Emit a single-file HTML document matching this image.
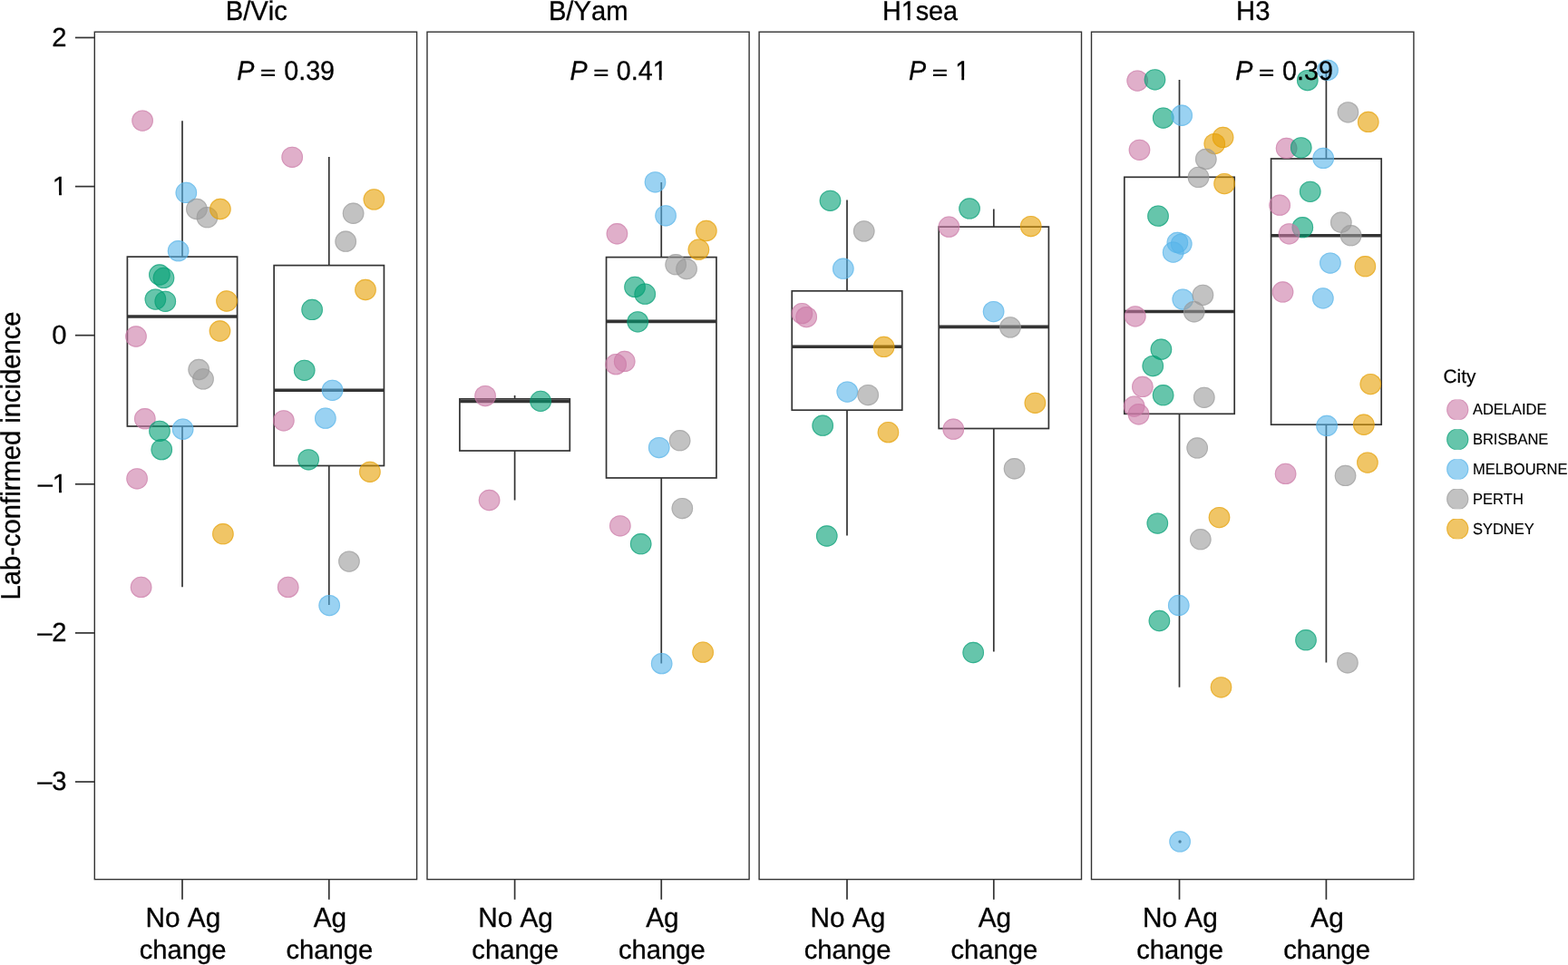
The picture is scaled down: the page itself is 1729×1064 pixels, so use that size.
<!DOCTYPE html>
<html lang="en"><head><meta charset="utf-8"><title>Lab-confirmed incidence by antigenic change</title>
<style>html,body{margin:0;padding:0;background:#fff;overflow:hidden}svg{display:block}text{font-family:"Liberation Sans",Arial,Helvetica,sans-serif;fill:#000;text-rendering:geometricPrecision;font-kerning:none}</style></head><body>
<svg width="1729" height="1064" viewBox="0 0 1729 1064">
<rect width="1729" height="1064" fill="#fff"/>
<g fill="none" stroke="#333333" stroke-width="1.7">
<path d="M201.0 133.2V283.1M201.0 470.0V647.2"/>
<rect x="140.40" y="283.1" width="121.20" height="186.90"/>
<path d="M140.40 349.0H261.60" stroke-width="3.6"/>
<path d="M362.8 173.0V292.6M362.8 513.5V667.0"/>
<rect x="302.15" y="292.6" width="121.30" height="220.90"/>
<path d="M302.15 430.3H423.45" stroke-width="3.6"/>
<path d="M567.6 436.0V439.85M567.6 497.0V551.4"/>
<rect x="506.90" y="439.85" width="121.40" height="57.15"/>
<path d="M506.90 442.5H628.30" stroke-width="3.6"/>
<path d="M729.25 200.9V283.6M729.25 526.95V731.6"/>
<rect x="668.55" y="283.6" width="121.40" height="243.35"/>
<path d="M668.55 354.4H789.95" stroke-width="3.6"/>
<path d="M934.0 220.6V320.8M934.0 452.2V590.6"/>
<rect x="873.25" y="320.8" width="121.50" height="131.40"/>
<path d="M873.25 382.2H994.75" stroke-width="3.6"/>
<path d="M1095.8 230.4V250.1M1095.8 472.5V718.6"/>
<rect x="1035.20" y="250.1" width="121.20" height="222.40"/>
<path d="M1035.20 360.4H1156.40" stroke-width="3.6"/>
<path d="M1300.5 87.9V195.3M1300.5 456.3V757.8"/>
<rect x="1239.80" y="195.3" width="121.40" height="261.00"/>
<path d="M1239.80 343.5H1361.20" stroke-width="3.6"/>
<path d="M1462.4 77.0V175.0M1462.4 468.2V730.5"/>
<rect x="1401.60" y="175.0" width="121.60" height="293.20"/>
<path d="M1401.60 259.8H1523.20" stroke-width="3.6"/>
</g>
<circle cx="1301.05" cy="928.05" r="1.7" fill="#333333"/>
<g><ellipse cx="157.1" cy="133.1" rx="11.8" ry="11.65" fill="#CC79A7" fill-opacity="0.6"/><ellipse cx="157.1" cy="133.1" rx="11.25" ry="11.10" fill="none" stroke="#CC79A7" stroke-opacity="0.5" stroke-width="1.1"/></g>
<g><ellipse cx="322.2" cy="173.3" rx="11.8" ry="11.65" fill="#CC79A7" fill-opacity="0.6"/><ellipse cx="322.2" cy="173.3" rx="11.25" ry="11.10" fill="none" stroke="#CC79A7" stroke-opacity="0.5" stroke-width="1.1"/></g>
<g><ellipse cx="205.35" cy="212.42" rx="11.8" ry="11.65" fill="#56B4E9" fill-opacity="0.6"/><ellipse cx="205.35" cy="212.42" rx="11.25" ry="11.10" fill="none" stroke="#56B4E9" stroke-opacity="0.5" stroke-width="1.1"/></g>
<g><ellipse cx="216.9" cy="230.5" rx="11.8" ry="11.65" fill="#999999" fill-opacity="0.6"/><ellipse cx="216.9" cy="230.5" rx="11.25" ry="11.10" fill="none" stroke="#999999" stroke-opacity="0.5" stroke-width="1.1"/></g>
<g><ellipse cx="228.47" cy="239.70" rx="11.8" ry="11.65" fill="#999999" fill-opacity="0.6"/><ellipse cx="228.47" cy="239.70" rx="11.25" ry="11.10" fill="none" stroke="#999999" stroke-opacity="0.5" stroke-width="1.1"/></g>
<g><ellipse cx="242.9" cy="230.5" rx="11.8" ry="11.65" fill="#E69F00" fill-opacity="0.6"/><ellipse cx="242.9" cy="230.5" rx="11.25" ry="11.10" fill="none" stroke="#E69F00" stroke-opacity="0.5" stroke-width="1.1"/></g>
<g><ellipse cx="412.4" cy="219.9" rx="11.8" ry="11.65" fill="#E69F00" fill-opacity="0.6"/><ellipse cx="412.4" cy="219.9" rx="11.25" ry="11.10" fill="none" stroke="#E69F00" stroke-opacity="0.5" stroke-width="1.1"/></g>
<g><ellipse cx="389.60" cy="235.24" rx="11.8" ry="11.65" fill="#999999" fill-opacity="0.6"/><ellipse cx="389.60" cy="235.24" rx="11.25" ry="11.10" fill="none" stroke="#999999" stroke-opacity="0.5" stroke-width="1.1"/></g>
<g><ellipse cx="381.2" cy="266.2" rx="11.8" ry="11.65" fill="#999999" fill-opacity="0.6"/><ellipse cx="381.2" cy="266.2" rx="11.25" ry="11.10" fill="none" stroke="#999999" stroke-opacity="0.5" stroke-width="1.1"/></g>
<g><ellipse cx="196.6" cy="276.7" rx="11.8" ry="11.65" fill="#56B4E9" fill-opacity="0.6"/><ellipse cx="196.6" cy="276.7" rx="11.25" ry="11.10" fill="none" stroke="#56B4E9" stroke-opacity="0.5" stroke-width="1.1"/></g>
<g><ellipse cx="175.9" cy="303.0" rx="11.8" ry="11.65" fill="#009E73" fill-opacity="0.6"/><ellipse cx="175.9" cy="303.0" rx="11.25" ry="11.10" fill="none" stroke="#009E73" stroke-opacity="0.5" stroke-width="1.1"/></g>
<g><ellipse cx="180.5" cy="306.4" rx="11.8" ry="11.65" fill="#009E73" fill-opacity="0.6"/><ellipse cx="180.5" cy="306.4" rx="11.25" ry="11.10" fill="none" stroke="#009E73" stroke-opacity="0.5" stroke-width="1.1"/></g>
<g><ellipse cx="171.4" cy="330.1" rx="11.8" ry="11.65" fill="#009E73" fill-opacity="0.6"/><ellipse cx="171.4" cy="330.1" rx="11.25" ry="11.10" fill="none" stroke="#009E73" stroke-opacity="0.5" stroke-width="1.1"/></g>
<g><ellipse cx="182.3" cy="332.3" rx="11.8" ry="11.65" fill="#009E73" fill-opacity="0.6"/><ellipse cx="182.3" cy="332.3" rx="11.25" ry="11.10" fill="none" stroke="#009E73" stroke-opacity="0.5" stroke-width="1.1"/></g>
<g><ellipse cx="250.0" cy="332.0" rx="11.8" ry="11.65" fill="#E69F00" fill-opacity="0.6"/><ellipse cx="250.0" cy="332.0" rx="11.25" ry="11.10" fill="none" stroke="#E69F00" stroke-opacity="0.5" stroke-width="1.1"/></g>
<g><ellipse cx="403.0" cy="319.5" rx="11.8" ry="11.65" fill="#E69F00" fill-opacity="0.6"/><ellipse cx="403.0" cy="319.5" rx="11.25" ry="11.10" fill="none" stroke="#E69F00" stroke-opacity="0.5" stroke-width="1.1"/></g>
<g><ellipse cx="344.14" cy="341.45" rx="11.8" ry="11.65" fill="#009E73" fill-opacity="0.6"/><ellipse cx="344.14" cy="341.45" rx="11.25" ry="11.10" fill="none" stroke="#009E73" stroke-opacity="0.5" stroke-width="1.1"/></g>
<g><ellipse cx="242.5" cy="365.0" rx="11.8" ry="11.65" fill="#E69F00" fill-opacity="0.6"/><ellipse cx="242.5" cy="365.0" rx="11.25" ry="11.10" fill="none" stroke="#E69F00" stroke-opacity="0.5" stroke-width="1.1"/></g>
<g><ellipse cx="150.0" cy="371.0" rx="11.8" ry="11.65" fill="#CC79A7" fill-opacity="0.6"/><ellipse cx="150.0" cy="371.0" rx="11.25" ry="11.10" fill="none" stroke="#CC79A7" stroke-opacity="0.5" stroke-width="1.1"/></g>
<g><ellipse cx="219.2" cy="407.5" rx="11.8" ry="11.65" fill="#999999" fill-opacity="0.6"/><ellipse cx="219.2" cy="407.5" rx="11.25" ry="11.10" fill="none" stroke="#999999" stroke-opacity="0.5" stroke-width="1.1"/></g>
<g><ellipse cx="224.04" cy="417.91" rx="11.8" ry="11.65" fill="#999999" fill-opacity="0.6"/><ellipse cx="224.04" cy="417.91" rx="11.25" ry="11.10" fill="none" stroke="#999999" stroke-opacity="0.5" stroke-width="1.1"/></g>
<g><ellipse cx="335.68" cy="408.36" rx="11.8" ry="11.65" fill="#009E73" fill-opacity="0.6"/><ellipse cx="335.68" cy="408.36" rx="11.25" ry="11.10" fill="none" stroke="#009E73" stroke-opacity="0.5" stroke-width="1.1"/></g>
<g><ellipse cx="366.55" cy="430.35" rx="11.8" ry="11.65" fill="#56B4E9" fill-opacity="0.6"/><ellipse cx="366.55" cy="430.35" rx="11.25" ry="11.10" fill="none" stroke="#56B4E9" stroke-opacity="0.5" stroke-width="1.1"/></g>
<g><ellipse cx="159.8" cy="461.7" rx="11.8" ry="11.65" fill="#CC79A7" fill-opacity="0.6"/><ellipse cx="159.8" cy="461.7" rx="11.25" ry="11.10" fill="none" stroke="#CC79A7" stroke-opacity="0.5" stroke-width="1.1"/></g>
<g><ellipse cx="312.84" cy="463.84" rx="11.8" ry="11.65" fill="#CC79A7" fill-opacity="0.6"/><ellipse cx="312.84" cy="463.84" rx="11.25" ry="11.10" fill="none" stroke="#CC79A7" stroke-opacity="0.5" stroke-width="1.1"/></g>
<g><ellipse cx="358.85" cy="461.14" rx="11.8" ry="11.65" fill="#56B4E9" fill-opacity="0.6"/><ellipse cx="358.85" cy="461.14" rx="11.25" ry="11.10" fill="none" stroke="#56B4E9" stroke-opacity="0.5" stroke-width="1.1"/></g>
<g><ellipse cx="176.00" cy="475.35" rx="11.8" ry="11.65" fill="#009E73" fill-opacity="0.6"/><ellipse cx="176.00" cy="475.35" rx="11.25" ry="11.10" fill="none" stroke="#009E73" stroke-opacity="0.5" stroke-width="1.1"/></g>
<g><ellipse cx="201.63" cy="473.15" rx="11.8" ry="11.65" fill="#56B4E9" fill-opacity="0.6"/><ellipse cx="201.63" cy="473.15" rx="11.25" ry="11.10" fill="none" stroke="#56B4E9" stroke-opacity="0.5" stroke-width="1.1"/></g>
<g><ellipse cx="178.28" cy="495.65" rx="11.8" ry="11.65" fill="#009E73" fill-opacity="0.6"/><ellipse cx="178.28" cy="495.65" rx="11.25" ry="11.10" fill="none" stroke="#009E73" stroke-opacity="0.5" stroke-width="1.1"/></g>
<g><ellipse cx="340.2" cy="506.8" rx="11.8" ry="11.65" fill="#009E73" fill-opacity="0.6"/><ellipse cx="340.2" cy="506.8" rx="11.25" ry="11.10" fill="none" stroke="#009E73" stroke-opacity="0.5" stroke-width="1.1"/></g>
<g><ellipse cx="407.9" cy="520.3" rx="11.8" ry="11.65" fill="#E69F00" fill-opacity="0.6"/><ellipse cx="407.9" cy="520.3" rx="11.25" ry="11.10" fill="none" stroke="#E69F00" stroke-opacity="0.5" stroke-width="1.1"/></g>
<g><ellipse cx="151.1" cy="527.8" rx="11.8" ry="11.65" fill="#CC79A7" fill-opacity="0.6"/><ellipse cx="151.1" cy="527.8" rx="11.25" ry="11.10" fill="none" stroke="#CC79A7" stroke-opacity="0.5" stroke-width="1.1"/></g>
<g><ellipse cx="245.9" cy="588.7" rx="11.8" ry="11.65" fill="#E69F00" fill-opacity="0.6"/><ellipse cx="245.9" cy="588.7" rx="11.25" ry="11.10" fill="none" stroke="#E69F00" stroke-opacity="0.5" stroke-width="1.1"/></g>
<g><ellipse cx="384.96" cy="619.09" rx="11.8" ry="11.65" fill="#999999" fill-opacity="0.6"/><ellipse cx="384.96" cy="619.09" rx="11.25" ry="11.10" fill="none" stroke="#999999" stroke-opacity="0.5" stroke-width="1.1"/></g>
<g><ellipse cx="155.6" cy="647.4" rx="11.8" ry="11.65" fill="#CC79A7" fill-opacity="0.6"/><ellipse cx="155.6" cy="647.4" rx="11.25" ry="11.10" fill="none" stroke="#CC79A7" stroke-opacity="0.5" stroke-width="1.1"/></g>
<g><ellipse cx="317.7" cy="647.4" rx="11.8" ry="11.65" fill="#CC79A7" fill-opacity="0.6"/><ellipse cx="317.7" cy="647.4" rx="11.25" ry="11.10" fill="none" stroke="#CC79A7" stroke-opacity="0.5" stroke-width="1.1"/></g>
<g><ellipse cx="363.20" cy="667.60" rx="11.8" ry="11.65" fill="#56B4E9" fill-opacity="0.6"/><ellipse cx="363.20" cy="667.60" rx="11.25" ry="11.10" fill="none" stroke="#56B4E9" stroke-opacity="0.5" stroke-width="1.1"/></g>
<g><ellipse cx="722.52" cy="200.79" rx="11.8" ry="11.65" fill="#56B4E9" fill-opacity="0.6"/><ellipse cx="722.52" cy="200.79" rx="11.25" ry="11.10" fill="none" stroke="#56B4E9" stroke-opacity="0.5" stroke-width="1.1"/></g>
<g><ellipse cx="734.08" cy="237.80" rx="11.8" ry="11.65" fill="#56B4E9" fill-opacity="0.6"/><ellipse cx="734.08" cy="237.80" rx="11.25" ry="11.10" fill="none" stroke="#56B4E9" stroke-opacity="0.5" stroke-width="1.1"/></g>
<g><ellipse cx="680.44" cy="257.75" rx="11.8" ry="11.65" fill="#CC79A7" fill-opacity="0.6"/><ellipse cx="680.44" cy="257.75" rx="11.25" ry="11.10" fill="none" stroke="#CC79A7" stroke-opacity="0.5" stroke-width="1.1"/></g>
<g><ellipse cx="778.84" cy="254.51" rx="11.8" ry="11.65" fill="#E69F00" fill-opacity="0.6"/><ellipse cx="778.84" cy="254.51" rx="11.25" ry="11.10" fill="none" stroke="#E69F00" stroke-opacity="0.5" stroke-width="1.1"/></g>
<g><ellipse cx="770.39" cy="275.16" rx="11.8" ry="11.65" fill="#E69F00" fill-opacity="0.6"/><ellipse cx="770.39" cy="275.16" rx="11.25" ry="11.10" fill="none" stroke="#E69F00" stroke-opacity="0.5" stroke-width="1.1"/></g>
<g><ellipse cx="745.15" cy="291.72" rx="11.8" ry="11.65" fill="#999999" fill-opacity="0.6"/><ellipse cx="745.15" cy="291.72" rx="11.25" ry="11.10" fill="none" stroke="#999999" stroke-opacity="0.5" stroke-width="1.1"/></g>
<g><ellipse cx="757.06" cy="296.52" rx="11.8" ry="11.65" fill="#999999" fill-opacity="0.6"/><ellipse cx="757.06" cy="296.52" rx="11.25" ry="11.10" fill="none" stroke="#999999" stroke-opacity="0.5" stroke-width="1.1"/></g>
<g><ellipse cx="700.04" cy="316.40" rx="11.8" ry="11.65" fill="#009E73" fill-opacity="0.6"/><ellipse cx="700.04" cy="316.40" rx="11.25" ry="11.10" fill="none" stroke="#009E73" stroke-opacity="0.5" stroke-width="1.1"/></g>
<g><ellipse cx="711.25" cy="324.15" rx="11.8" ry="11.65" fill="#009E73" fill-opacity="0.6"/><ellipse cx="711.25" cy="324.15" rx="11.25" ry="11.10" fill="none" stroke="#009E73" stroke-opacity="0.5" stroke-width="1.1"/></g>
<g><ellipse cx="703.21" cy="354.84" rx="11.8" ry="11.65" fill="#009E73" fill-opacity="0.6"/><ellipse cx="703.21" cy="354.84" rx="11.25" ry="11.10" fill="none" stroke="#009E73" stroke-opacity="0.5" stroke-width="1.1"/></g>
<g><ellipse cx="688.69" cy="398.47" rx="11.8" ry="11.65" fill="#CC79A7" fill-opacity="0.6"/><ellipse cx="688.69" cy="398.47" rx="11.25" ry="11.10" fill="none" stroke="#CC79A7" stroke-opacity="0.5" stroke-width="1.1"/></g>
<g><ellipse cx="679.17" cy="401.64" rx="11.8" ry="11.65" fill="#CC79A7" fill-opacity="0.6"/><ellipse cx="679.17" cy="401.64" rx="11.25" ry="11.10" fill="none" stroke="#CC79A7" stroke-opacity="0.5" stroke-width="1.1"/></g>
<g><ellipse cx="535.08" cy="436.54" rx="11.8" ry="11.65" fill="#CC79A7" fill-opacity="0.6"/><ellipse cx="535.08" cy="436.54" rx="11.25" ry="11.10" fill="none" stroke="#CC79A7" stroke-opacity="0.5" stroke-width="1.1"/></g>
<g><ellipse cx="596.16" cy="442.38" rx="11.8" ry="11.65" fill="#009E73" fill-opacity="0.6"/><ellipse cx="596.16" cy="442.38" rx="11.25" ry="11.10" fill="none" stroke="#009E73" stroke-opacity="0.5" stroke-width="1.1"/></g>
<g><ellipse cx="726.72" cy="493.54" rx="11.8" ry="11.65" fill="#56B4E9" fill-opacity="0.6"/><ellipse cx="726.72" cy="493.54" rx="11.25" ry="11.10" fill="none" stroke="#56B4E9" stroke-opacity="0.5" stroke-width="1.1"/></g>
<g><ellipse cx="749.64" cy="485.68" rx="11.8" ry="11.65" fill="#999999" fill-opacity="0.6"/><ellipse cx="749.64" cy="485.68" rx="11.25" ry="11.10" fill="none" stroke="#999999" stroke-opacity="0.5" stroke-width="1.1"/></g>
<g><ellipse cx="539.57" cy="551.49" rx="11.8" ry="11.65" fill="#CC79A7" fill-opacity="0.6"/><ellipse cx="539.57" cy="551.49" rx="11.25" ry="11.10" fill="none" stroke="#CC79A7" stroke-opacity="0.5" stroke-width="1.1"/></g>
<g><ellipse cx="752.35" cy="560.54" rx="11.8" ry="11.65" fill="#999999" fill-opacity="0.6"/><ellipse cx="752.35" cy="560.54" rx="11.25" ry="11.10" fill="none" stroke="#999999" stroke-opacity="0.5" stroke-width="1.1"/></g>
<g><ellipse cx="683.83" cy="579.82" rx="11.8" ry="11.65" fill="#CC79A7" fill-opacity="0.6"/><ellipse cx="683.83" cy="579.82" rx="11.25" ry="11.10" fill="none" stroke="#CC79A7" stroke-opacity="0.5" stroke-width="1.1"/></g>
<g><ellipse cx="706.67" cy="599.70" rx="11.8" ry="11.65" fill="#009E73" fill-opacity="0.6"/><ellipse cx="706.67" cy="599.70" rx="11.25" ry="11.10" fill="none" stroke="#009E73" stroke-opacity="0.5" stroke-width="1.1"/></g>
<g><ellipse cx="775.12" cy="719.16" rx="11.8" ry="11.65" fill="#E69F00" fill-opacity="0.6"/><ellipse cx="775.12" cy="719.16" rx="11.25" ry="11.10" fill="none" stroke="#E69F00" stroke-opacity="0.5" stroke-width="1.1"/></g>
<g><ellipse cx="729.65" cy="731.64" rx="11.8" ry="11.65" fill="#56B4E9" fill-opacity="0.6"/><ellipse cx="729.65" cy="731.64" rx="11.25" ry="11.10" fill="none" stroke="#56B4E9" stroke-opacity="0.5" stroke-width="1.1"/></g>
<g><ellipse cx="915.49" cy="221.32" rx="11.8" ry="11.65" fill="#009E73" fill-opacity="0.6"/><ellipse cx="915.49" cy="221.32" rx="11.25" ry="11.10" fill="none" stroke="#009E73" stroke-opacity="0.5" stroke-width="1.1"/></g>
<g><ellipse cx="952.7" cy="254.9" rx="11.8" ry="11.65" fill="#999999" fill-opacity="0.6"/><ellipse cx="952.7" cy="254.9" rx="11.25" ry="11.10" fill="none" stroke="#999999" stroke-opacity="0.5" stroke-width="1.1"/></g>
<g><ellipse cx="929.8" cy="296.2" rx="11.8" ry="11.65" fill="#56B4E9" fill-opacity="0.6"/><ellipse cx="929.8" cy="296.2" rx="11.25" ry="11.10" fill="none" stroke="#56B4E9" stroke-opacity="0.5" stroke-width="1.1"/></g>
<g><ellipse cx="884.36" cy="345.66" rx="11.8" ry="11.65" fill="#CC79A7" fill-opacity="0.6"/><ellipse cx="884.36" cy="345.66" rx="11.25" ry="11.10" fill="none" stroke="#CC79A7" stroke-opacity="0.5" stroke-width="1.1"/></g>
<g><ellipse cx="889.2" cy="349.6" rx="11.8" ry="11.65" fill="#CC79A7" fill-opacity="0.6"/><ellipse cx="889.2" cy="349.6" rx="11.25" ry="11.10" fill="none" stroke="#CC79A7" stroke-opacity="0.5" stroke-width="1.1"/></g>
<g><ellipse cx="974.61" cy="382.43" rx="11.8" ry="11.65" fill="#E69F00" fill-opacity="0.6"/><ellipse cx="974.61" cy="382.43" rx="11.25" ry="11.10" fill="none" stroke="#E69F00" stroke-opacity="0.5" stroke-width="1.1"/></g>
<g><ellipse cx="1069.06" cy="229.94" rx="11.8" ry="11.65" fill="#009E73" fill-opacity="0.6"/><ellipse cx="1069.06" cy="229.94" rx="11.25" ry="11.10" fill="none" stroke="#009E73" stroke-opacity="0.5" stroke-width="1.1"/></g>
<g><ellipse cx="1046.39" cy="250.16" rx="11.8" ry="11.65" fill="#CC79A7" fill-opacity="0.6"/><ellipse cx="1046.39" cy="250.16" rx="11.25" ry="11.10" fill="none" stroke="#CC79A7" stroke-opacity="0.5" stroke-width="1.1"/></g>
<g><ellipse cx="1136.73" cy="249.57" rx="11.8" ry="11.65" fill="#E69F00" fill-opacity="0.6"/><ellipse cx="1136.73" cy="249.57" rx="11.25" ry="11.10" fill="none" stroke="#E69F00" stroke-opacity="0.5" stroke-width="1.1"/></g>
<g><ellipse cx="1095.6" cy="343.6" rx="11.8" ry="11.65" fill="#56B4E9" fill-opacity="0.6"/><ellipse cx="1095.6" cy="343.6" rx="11.25" ry="11.10" fill="none" stroke="#56B4E9" stroke-opacity="0.5" stroke-width="1.1"/></g>
<g><ellipse cx="1114.0" cy="360.9" rx="11.8" ry="11.65" fill="#999999" fill-opacity="0.6"/><ellipse cx="1114.0" cy="360.9" rx="11.25" ry="11.10" fill="none" stroke="#999999" stroke-opacity="0.5" stroke-width="1.1"/></g>
<g><ellipse cx="934.27" cy="432.09" rx="11.8" ry="11.65" fill="#56B4E9" fill-opacity="0.6"/><ellipse cx="934.27" cy="432.09" rx="11.25" ry="11.10" fill="none" stroke="#56B4E9" stroke-opacity="0.5" stroke-width="1.1"/></g>
<g><ellipse cx="957.19" cy="435.55" rx="11.8" ry="11.65" fill="#999999" fill-opacity="0.6"/><ellipse cx="957.19" cy="435.55" rx="11.25" ry="11.10" fill="none" stroke="#999999" stroke-opacity="0.5" stroke-width="1.1"/></g>
<g><ellipse cx="907.20" cy="469.22" rx="11.8" ry="11.65" fill="#009E73" fill-opacity="0.6"/><ellipse cx="907.20" cy="469.22" rx="11.25" ry="11.10" fill="none" stroke="#009E73" stroke-opacity="0.5" stroke-width="1.1"/></g>
<g><ellipse cx="979.44" cy="476.66" rx="11.8" ry="11.65" fill="#E69F00" fill-opacity="0.6"/><ellipse cx="979.44" cy="476.66" rx="11.25" ry="11.10" fill="none" stroke="#E69F00" stroke-opacity="0.5" stroke-width="1.1"/></g>
<g><ellipse cx="911.74" cy="591.01" rx="11.8" ry="11.65" fill="#009E73" fill-opacity="0.6"/><ellipse cx="911.74" cy="591.01" rx="11.25" ry="11.10" fill="none" stroke="#009E73" stroke-opacity="0.5" stroke-width="1.1"/></g>
<g><ellipse cx="1141.4" cy="444.3" rx="11.8" ry="11.65" fill="#E69F00" fill-opacity="0.6"/><ellipse cx="1141.4" cy="444.3" rx="11.25" ry="11.10" fill="none" stroke="#E69F00" stroke-opacity="0.5" stroke-width="1.1"/></g>
<g><ellipse cx="1051.30" cy="473.20" rx="11.8" ry="11.65" fill="#CC79A7" fill-opacity="0.6"/><ellipse cx="1051.30" cy="473.20" rx="11.25" ry="11.10" fill="none" stroke="#CC79A7" stroke-opacity="0.5" stroke-width="1.1"/></g>
<g><ellipse cx="1118.54" cy="516.76" rx="11.8" ry="11.65" fill="#999999" fill-opacity="0.6"/><ellipse cx="1118.54" cy="516.76" rx="11.25" ry="11.10" fill="none" stroke="#999999" stroke-opacity="0.5" stroke-width="1.1"/></g>
<g><ellipse cx="1073.21" cy="719.48" rx="11.8" ry="11.65" fill="#009E73" fill-opacity="0.6"/><ellipse cx="1073.21" cy="719.48" rx="11.25" ry="11.10" fill="none" stroke="#009E73" stroke-opacity="0.5" stroke-width="1.1"/></g>
<g><ellipse cx="1254.19" cy="89.10" rx="11.8" ry="11.65" fill="#CC79A7" fill-opacity="0.6"/><ellipse cx="1254.19" cy="89.10" rx="11.25" ry="11.10" fill="none" stroke="#CC79A7" stroke-opacity="0.5" stroke-width="1.1"/></g>
<g><ellipse cx="1273.48" cy="87.83" rx="11.8" ry="11.65" fill="#009E73" fill-opacity="0.6"/><ellipse cx="1273.48" cy="87.83" rx="11.25" ry="11.10" fill="none" stroke="#009E73" stroke-opacity="0.5" stroke-width="1.1"/></g>
<g><ellipse cx="1282.70" cy="130.04" rx="11.8" ry="11.65" fill="#009E73" fill-opacity="0.6"/><ellipse cx="1282.70" cy="130.04" rx="11.25" ry="11.10" fill="none" stroke="#009E73" stroke-opacity="0.5" stroke-width="1.1"/></g>
<g><ellipse cx="1303.17" cy="127.25" rx="11.8" ry="11.65" fill="#56B4E9" fill-opacity="0.6"/><ellipse cx="1303.17" cy="127.25" rx="11.25" ry="11.10" fill="none" stroke="#56B4E9" stroke-opacity="0.5" stroke-width="1.1"/></g>
<g><ellipse cx="1256.48" cy="165.31" rx="11.8" ry="11.65" fill="#CC79A7" fill-opacity="0.6"/><ellipse cx="1256.48" cy="165.31" rx="11.25" ry="11.10" fill="none" stroke="#CC79A7" stroke-opacity="0.5" stroke-width="1.1"/></g>
<g><ellipse cx="1348.59" cy="151.44" rx="11.8" ry="11.65" fill="#E69F00" fill-opacity="0.6"/><ellipse cx="1348.59" cy="151.44" rx="11.25" ry="11.10" fill="none" stroke="#E69F00" stroke-opacity="0.5" stroke-width="1.1"/></g>
<g><ellipse cx="1339.29" cy="158.54" rx="11.8" ry="11.65" fill="#E69F00" fill-opacity="0.6"/><ellipse cx="1339.29" cy="158.54" rx="11.25" ry="11.10" fill="none" stroke="#E69F00" stroke-opacity="0.5" stroke-width="1.1"/></g>
<g><ellipse cx="1329.81" cy="175.46" rx="11.8" ry="11.65" fill="#999999" fill-opacity="0.6"/><ellipse cx="1329.81" cy="175.46" rx="11.25" ry="11.10" fill="none" stroke="#999999" stroke-opacity="0.5" stroke-width="1.1"/></g>
<g><ellipse cx="1321.52" cy="195.42" rx="11.8" ry="11.65" fill="#999999" fill-opacity="0.6"/><ellipse cx="1321.52" cy="195.42" rx="11.25" ry="11.10" fill="none" stroke="#999999" stroke-opacity="0.5" stroke-width="1.1"/></g>
<g><ellipse cx="1350.11" cy="202.61" rx="11.8" ry="11.65" fill="#E69F00" fill-opacity="0.6"/><ellipse cx="1350.11" cy="202.61" rx="11.25" ry="11.10" fill="none" stroke="#E69F00" stroke-opacity="0.5" stroke-width="1.1"/></g>
<g><ellipse cx="1277.03" cy="238.14" rx="11.8" ry="11.65" fill="#009E73" fill-opacity="0.6"/><ellipse cx="1277.03" cy="238.14" rx="11.25" ry="11.10" fill="none" stroke="#009E73" stroke-opacity="0.5" stroke-width="1.1"/></g>
<g><ellipse cx="1298.35" cy="267.47" rx="11.8" ry="11.65" fill="#56B4E9" fill-opacity="0.6"/><ellipse cx="1298.35" cy="267.47" rx="11.25" ry="11.10" fill="none" stroke="#56B4E9" stroke-opacity="0.5" stroke-width="1.1"/></g>
<g><ellipse cx="1302.74" cy="269.08" rx="11.8" ry="11.65" fill="#56B4E9" fill-opacity="0.6"/><ellipse cx="1302.74" cy="269.08" rx="11.25" ry="11.10" fill="none" stroke="#56B4E9" stroke-opacity="0.5" stroke-width="1.1"/></g>
<g><ellipse cx="1293.69" cy="278.13" rx="11.8" ry="11.65" fill="#56B4E9" fill-opacity="0.6"/><ellipse cx="1293.69" cy="278.13" rx="11.25" ry="11.10" fill="none" stroke="#56B4E9" stroke-opacity="0.5" stroke-width="1.1"/></g>
<g><ellipse cx="1304.27" cy="330.07" rx="11.8" ry="11.65" fill="#56B4E9" fill-opacity="0.6"/><ellipse cx="1304.27" cy="330.07" rx="11.25" ry="11.10" fill="none" stroke="#56B4E9" stroke-opacity="0.5" stroke-width="1.1"/></g>
<g><ellipse cx="1326.43" cy="325.33" rx="11.8" ry="11.65" fill="#999999" fill-opacity="0.6"/><ellipse cx="1326.43" cy="325.33" rx="11.25" ry="11.10" fill="none" stroke="#999999" stroke-opacity="0.5" stroke-width="1.1"/></g>
<g><ellipse cx="1316.70" cy="343.77" rx="11.8" ry="11.65" fill="#999999" fill-opacity="0.6"/><ellipse cx="1316.70" cy="343.77" rx="11.25" ry="11.10" fill="none" stroke="#999999" stroke-opacity="0.5" stroke-width="1.1"/></g>
<g><ellipse cx="1251.82" cy="348.84" rx="11.8" ry="11.65" fill="#CC79A7" fill-opacity="0.6"/><ellipse cx="1251.82" cy="348.84" rx="11.25" ry="11.10" fill="none" stroke="#CC79A7" stroke-opacity="0.5" stroke-width="1.1"/></g>
<g><ellipse cx="1280.41" cy="385.22" rx="11.8" ry="11.65" fill="#009E73" fill-opacity="0.6"/><ellipse cx="1280.41" cy="385.22" rx="11.25" ry="11.10" fill="none" stroke="#009E73" stroke-opacity="0.5" stroke-width="1.1"/></g>
<g><ellipse cx="1271.28" cy="403.53" rx="11.8" ry="11.65" fill="#009E73" fill-opacity="0.6"/><ellipse cx="1271.28" cy="403.53" rx="11.25" ry="11.10" fill="none" stroke="#009E73" stroke-opacity="0.5" stroke-width="1.1"/></g>
<g><ellipse cx="1259.86" cy="426.46" rx="11.8" ry="11.65" fill="#CC79A7" fill-opacity="0.6"/><ellipse cx="1259.86" cy="426.46" rx="11.25" ry="11.10" fill="none" stroke="#CC79A7" stroke-opacity="0.5" stroke-width="1.1"/></g>
<g><ellipse cx="1282.61" cy="435.68" rx="11.8" ry="11.65" fill="#009E73" fill-opacity="0.6"/><ellipse cx="1282.61" cy="435.68" rx="11.25" ry="11.10" fill="none" stroke="#009E73" stroke-opacity="0.5" stroke-width="1.1"/></g>
<g><ellipse cx="1327.78" cy="438.30" rx="11.8" ry="11.65" fill="#999999" fill-opacity="0.6"/><ellipse cx="1327.78" cy="438.30" rx="11.25" ry="11.10" fill="none" stroke="#999999" stroke-opacity="0.5" stroke-width="1.1"/></g>
<g><ellipse cx="1250.64" cy="448.11" rx="11.8" ry="11.65" fill="#CC79A7" fill-opacity="0.6"/><ellipse cx="1250.64" cy="448.11" rx="11.25" ry="11.10" fill="none" stroke="#CC79A7" stroke-opacity="0.5" stroke-width="1.1"/></g>
<g><ellipse cx="1255.55" cy="456.74" rx="11.8" ry="11.65" fill="#CC79A7" fill-opacity="0.6"/><ellipse cx="1255.55" cy="456.74" rx="11.25" ry="11.10" fill="none" stroke="#CC79A7" stroke-opacity="0.5" stroke-width="1.1"/></g>
<g><ellipse cx="1320.17" cy="493.96" rx="11.8" ry="11.65" fill="#999999" fill-opacity="0.6"/><ellipse cx="1320.17" cy="493.96" rx="11.25" ry="11.10" fill="none" stroke="#999999" stroke-opacity="0.5" stroke-width="1.1"/></g>
<g><ellipse cx="1276.33" cy="577.07" rx="11.8" ry="11.65" fill="#009E73" fill-opacity="0.6"/><ellipse cx="1276.33" cy="577.07" rx="11.25" ry="11.10" fill="none" stroke="#009E73" stroke-opacity="0.5" stroke-width="1.1"/></g>
<g><ellipse cx="1344.5" cy="570.6" rx="11.8" ry="11.65" fill="#E69F00" fill-opacity="0.6"/><ellipse cx="1344.5" cy="570.6" rx="11.25" ry="11.10" fill="none" stroke="#E69F00" stroke-opacity="0.5" stroke-width="1.1"/></g>
<g><ellipse cx="1323.8" cy="594.7" rx="11.8" ry="11.65" fill="#999999" fill-opacity="0.6"/><ellipse cx="1323.8" cy="594.7" rx="11.25" ry="11.10" fill="none" stroke="#999999" stroke-opacity="0.5" stroke-width="1.1"/></g>
<g><ellipse cx="1299.75" cy="667.43" rx="11.8" ry="11.65" fill="#56B4E9" fill-opacity="0.6"/><ellipse cx="1299.75" cy="667.43" rx="11.25" ry="11.10" fill="none" stroke="#56B4E9" stroke-opacity="0.5" stroke-width="1.1"/></g>
<g><ellipse cx="1278.41" cy="684.51" rx="11.8" ry="11.65" fill="#009E73" fill-opacity="0.6"/><ellipse cx="1278.41" cy="684.51" rx="11.25" ry="11.10" fill="none" stroke="#009E73" stroke-opacity="0.5" stroke-width="1.1"/></g>
<g><ellipse cx="1346.5" cy="757.8" rx="11.8" ry="11.65" fill="#E69F00" fill-opacity="0.6"/><ellipse cx="1346.5" cy="757.8" rx="11.25" ry="11.10" fill="none" stroke="#E69F00" stroke-opacity="0.5" stroke-width="1.1"/></g>
<g><ellipse cx="1301.1" cy="927.95" rx="11.8" ry="11.65" fill="#56B4E9" fill-opacity="0.6"/><ellipse cx="1301.1" cy="927.95" rx="11.25" ry="11.10" fill="none" stroke="#56B4E9" stroke-opacity="0.5" stroke-width="1.1"/></g>
<g><ellipse cx="1464.01" cy="77.34" rx="11.8" ry="11.65" fill="#56B4E9" fill-opacity="0.6"/><ellipse cx="1464.01" cy="77.34" rx="11.25" ry="11.10" fill="none" stroke="#56B4E9" stroke-opacity="0.5" stroke-width="1.1"/></g>
<g><ellipse cx="1441.77" cy="88.59" rx="11.8" ry="11.65" fill="#009E73" fill-opacity="0.6"/><ellipse cx="1441.77" cy="88.59" rx="11.25" ry="11.10" fill="none" stroke="#009E73" stroke-opacity="0.5" stroke-width="1.1"/></g>
<g><ellipse cx="1486.43" cy="123.86" rx="11.8" ry="11.65" fill="#999999" fill-opacity="0.6"/><ellipse cx="1486.43" cy="123.86" rx="11.25" ry="11.10" fill="none" stroke="#999999" stroke-opacity="0.5" stroke-width="1.1"/></g>
<g><ellipse cx="1508.76" cy="134.44" rx="11.8" ry="11.65" fill="#E69F00" fill-opacity="0.6"/><ellipse cx="1508.76" cy="134.44" rx="11.25" ry="11.10" fill="none" stroke="#E69F00" stroke-opacity="0.5" stroke-width="1.1"/></g>
<g><ellipse cx="1418.59" cy="163.45" rx="11.8" ry="11.65" fill="#CC79A7" fill-opacity="0.6"/><ellipse cx="1418.59" cy="163.45" rx="11.25" ry="11.10" fill="none" stroke="#CC79A7" stroke-opacity="0.5" stroke-width="1.1"/></g>
<g><ellipse cx="1434.75" cy="162.86" rx="11.8" ry="11.65" fill="#009E73" fill-opacity="0.6"/><ellipse cx="1434.75" cy="162.86" rx="11.25" ry="11.10" fill="none" stroke="#009E73" stroke-opacity="0.5" stroke-width="1.1"/></g>
<g><ellipse cx="1459.19" cy="174.45" rx="11.8" ry="11.65" fill="#56B4E9" fill-opacity="0.6"/><ellipse cx="1459.19" cy="174.45" rx="11.25" ry="11.10" fill="none" stroke="#56B4E9" stroke-opacity="0.5" stroke-width="1.1"/></g>
<g><ellipse cx="1444.73" cy="211.33" rx="11.8" ry="11.65" fill="#009E73" fill-opacity="0.6"/><ellipse cx="1444.73" cy="211.33" rx="11.25" ry="11.10" fill="none" stroke="#009E73" stroke-opacity="0.5" stroke-width="1.1"/></g>
<g><ellipse cx="1411.15" cy="226.21" rx="11.8" ry="11.65" fill="#CC79A7" fill-opacity="0.6"/><ellipse cx="1411.15" cy="226.21" rx="11.25" ry="11.10" fill="none" stroke="#CC79A7" stroke-opacity="0.5" stroke-width="1.1"/></g>
<g><ellipse cx="1478.82" cy="245.23" rx="11.8" ry="11.65" fill="#999999" fill-opacity="0.6"/><ellipse cx="1478.82" cy="245.23" rx="11.25" ry="11.10" fill="none" stroke="#999999" stroke-opacity="0.5" stroke-width="1.1"/></g>
<g><ellipse cx="1436.35" cy="250.72" rx="11.8" ry="11.65" fill="#009E73" fill-opacity="0.6"/><ellipse cx="1436.35" cy="250.72" rx="11.25" ry="11.10" fill="none" stroke="#009E73" stroke-opacity="0.5" stroke-width="1.1"/></g>
<g><ellipse cx="1421.47" cy="257.83" rx="11.8" ry="11.65" fill="#CC79A7" fill-opacity="0.6"/><ellipse cx="1421.47" cy="257.83" rx="11.25" ry="11.10" fill="none" stroke="#CC79A7" stroke-opacity="0.5" stroke-width="1.1"/></g>
<g><ellipse cx="1489.64" cy="259.69" rx="11.8" ry="11.65" fill="#999999" fill-opacity="0.6"/><ellipse cx="1489.64" cy="259.69" rx="11.25" ry="11.10" fill="none" stroke="#999999" stroke-opacity="0.5" stroke-width="1.1"/></g>
<g><ellipse cx="1466.89" cy="290.06" rx="11.8" ry="11.65" fill="#56B4E9" fill-opacity="0.6"/><ellipse cx="1466.89" cy="290.06" rx="11.25" ry="11.10" fill="none" stroke="#56B4E9" stroke-opacity="0.5" stroke-width="1.1"/></g>
<g><ellipse cx="1505.38" cy="293.69" rx="11.8" ry="11.65" fill="#E69F00" fill-opacity="0.6"/><ellipse cx="1505.38" cy="293.69" rx="11.25" ry="11.10" fill="none" stroke="#E69F00" stroke-opacity="0.5" stroke-width="1.1"/></g>
<g><ellipse cx="1414.53" cy="321.95" rx="11.8" ry="11.65" fill="#CC79A7" fill-opacity="0.6"/><ellipse cx="1414.53" cy="321.95" rx="11.25" ry="11.10" fill="none" stroke="#CC79A7" stroke-opacity="0.5" stroke-width="1.1"/></g>
<g><ellipse cx="1458.85" cy="328.88" rx="11.8" ry="11.65" fill="#56B4E9" fill-opacity="0.6"/><ellipse cx="1458.85" cy="328.88" rx="11.25" ry="11.10" fill="none" stroke="#56B4E9" stroke-opacity="0.5" stroke-width="1.1"/></g>
<g><ellipse cx="1511.30" cy="423.60" rx="11.8" ry="11.65" fill="#E69F00" fill-opacity="0.6"/><ellipse cx="1511.30" cy="423.60" rx="11.25" ry="11.10" fill="none" stroke="#E69F00" stroke-opacity="0.5" stroke-width="1.1"/></g>
<g><ellipse cx="1463.08" cy="469.45" rx="11.8" ry="11.65" fill="#56B4E9" fill-opacity="0.6"/><ellipse cx="1463.08" cy="469.45" rx="11.25" ry="11.10" fill="none" stroke="#56B4E9" stroke-opacity="0.5" stroke-width="1.1"/></g>
<g><ellipse cx="1503.85" cy="468.26" rx="11.8" ry="11.65" fill="#E69F00" fill-opacity="0.6"/><ellipse cx="1503.85" cy="468.26" rx="11.25" ry="11.10" fill="none" stroke="#E69F00" stroke-opacity="0.5" stroke-width="1.1"/></g>
<g><ellipse cx="1507.91" cy="510.05" rx="11.8" ry="11.65" fill="#E69F00" fill-opacity="0.6"/><ellipse cx="1507.91" cy="510.05" rx="11.25" ry="11.10" fill="none" stroke="#E69F00" stroke-opacity="0.5" stroke-width="1.1"/></g>
<g><ellipse cx="1417.58" cy="522.40" rx="11.8" ry="11.65" fill="#CC79A7" fill-opacity="0.6"/><ellipse cx="1417.58" cy="522.40" rx="11.25" ry="11.10" fill="none" stroke="#CC79A7" stroke-opacity="0.5" stroke-width="1.1"/></g>
<g><ellipse cx="1483.55" cy="524.43" rx="11.8" ry="11.65" fill="#999999" fill-opacity="0.6"/><ellipse cx="1483.55" cy="524.43" rx="11.25" ry="11.10" fill="none" stroke="#999999" stroke-opacity="0.5" stroke-width="1.1"/></g>
<g><ellipse cx="1440.0" cy="705.7" rx="11.8" ry="11.65" fill="#009E73" fill-opacity="0.6"/><ellipse cx="1440.0" cy="705.7" rx="11.25" ry="11.10" fill="none" stroke="#009E73" stroke-opacity="0.5" stroke-width="1.1"/></g>
<g><ellipse cx="1485.9" cy="730.8" rx="11.8" ry="11.65" fill="#999999" fill-opacity="0.6"/><ellipse cx="1485.9" cy="730.8" rx="11.25" ry="11.10" fill="none" stroke="#999999" stroke-opacity="0.5" stroke-width="1.1"/></g>
<rect x="104.3" y="35.2" width="355.3" height="934.4" fill="none" stroke="#333333" stroke-width="1.4"/>
<rect x="471.0" y="35.2" width="355.1" height="934.4" fill="none" stroke="#333333" stroke-width="1.4"/>
<rect x="837.1" y="35.2" width="355.4" height="934.4" fill="none" stroke="#333333" stroke-width="1.4"/>
<rect x="1203.5" y="35.2" width="355.4" height="934.4" fill="none" stroke="#333333" stroke-width="1.4"/>
<text transform="translate(282.80 22.00) scale(1.0 1.02)" font-size="29.2" text-anchor="middle" stroke="#000" stroke-width="0.3">B/Vic</text>
<text transform="translate(648.70 22.00) scale(1.0 1.02)" font-size="29.2" text-anchor="middle" stroke="#000" stroke-width="0.3">B/Yam</text>
<clipPath id="c1"><path clip-rule="evenodd" d="M-500 -500H500V500H-500ZM-20.89 -3.38H-13.89V2.0H-20.89ZM-11.07 -3.38H-4.30V2.0H-11.07Z"/></clipPath>
<text transform="translate(1014.50 22.00) scale(0.985 1.02)" font-size="29.2" text-anchor="middle" stroke="#000" stroke-width="0.3" clip-path="url(#c1)">H1sea</text>
<text transform="translate(1381.75 22.00) scale(1.0 1.02)" font-size="29.2" text-anchor="middle" stroke="#000" stroke-width="0.3">H3</text>
<text transform="translate(261.34 88.00) scale(0.983 1.02)" font-size="29.2" text-anchor="start" stroke="#000" stroke-width="0.3"><tspan font-style="italic">P</tspan></text>
<text transform="translate(287.36 87.00) scale(0.983 0.7)" font-size="29.2" text-anchor="start" stroke="#000" stroke-width="0.9">=</text>
<text transform="translate(313.21 88.00) scale(0.983 1.02)" font-size="29.2" text-anchor="start" stroke="#000" stroke-width="0.3">0.39</text>
<text transform="translate(628.54 88.00) scale(0.983 1.02)" font-size="29.2" text-anchor="start" stroke="#000" stroke-width="0.3"><tspan font-style="italic">P</tspan></text>
<text transform="translate(654.56 87.00) scale(0.983 0.7)" font-size="29.2" text-anchor="start" stroke="#000" stroke-width="0.9">=</text>
<clipPath id="c2"><path clip-rule="evenodd" d="M-500 -500H500V500H-500ZM40.82 -3.38H47.81V2.0H40.82ZM50.64 -3.38H57.41V2.0H50.64Z"/></clipPath>
<text transform="translate(679.81 88.00) scale(0.983 1.02)" font-size="29.2" text-anchor="start" stroke="#000" stroke-width="0.3" clip-path="url(#c2)">0.41</text>
<text transform="translate(1001.99 88.00) scale(0.983 1.02)" font-size="29.2" text-anchor="start" stroke="#000" stroke-width="0.3"><tspan font-style="italic">P</tspan></text>
<text transform="translate(1028.01 87.00) scale(0.983 0.7)" font-size="29.2" text-anchor="start" stroke="#000" stroke-width="0.9">=</text>
<clipPath id="c3"><path clip-rule="evenodd" d="M-500 -500H500V500H-500ZM0.22 -3.38H7.22V2.0H0.22ZM10.04 -3.38H16.81V2.0H10.04Z"/></clipPath>
<text transform="translate(1053.25 88.00) scale(0.983 1.02)" font-size="29.2" text-anchor="start" stroke="#000" stroke-width="0.3" clip-path="url(#c3)">1</text>
<text transform="translate(1362.14 88.00) scale(0.983 1.02)" font-size="29.2" text-anchor="start" stroke="#000" stroke-width="0.3"><tspan font-style="italic">P</tspan></text>
<text transform="translate(1388.16 87.00) scale(0.983 0.7)" font-size="29.2" text-anchor="start" stroke="#000" stroke-width="0.9">=</text>
<text transform="translate(1414.01 88.00) scale(0.983 1.02)" font-size="29.2" text-anchor="start" stroke="#000" stroke-width="0.3">0.39</text>
<g stroke="#333333" stroke-width="1.7">
<path d="M82.9 41.5H104.4"/>
<path d="M82.9 205.6H104.4"/>
<path d="M82.9 369.7H104.4"/>
<path d="M82.9 533.8H104.4"/>
<path d="M82.9 697.9H104.4"/>
<path d="M82.9 862.0H104.4"/>
<path d="M201.0 969.6V991.8"/>
<path d="M362.8 969.6V991.8"/>
<path d="M567.6 969.6V991.8"/>
<path d="M729.25 969.6V991.8"/>
<path d="M934.0 969.6V991.8"/>
<path d="M1095.8 969.6V991.8"/>
<path d="M1300.5 969.6V991.8"/>
<path d="M1462.4 969.6V991.8"/>
</g>
<text transform="translate(73.60 51.00) scale(1.0 1.0)" font-size="29.2" text-anchor="end" stroke="#000" stroke-width="0.3">2</text>
<clipPath id="c4"><path clip-rule="evenodd" d="M-500 -500H500V500H-500ZM-16.02 -3.38H-9.02V2.0H-16.02ZM-6.20 -3.38H0.57V2.0H-6.20Z"/></clipPath>
<text transform="translate(74.10 215.00) scale(1.0 1.0)" font-size="29.2" text-anchor="end" stroke="#000" stroke-width="0.3" clip-path="url(#c4)">1</text>
<text transform="translate(73.60 379.00) scale(1.0 1.0)" font-size="29.2" text-anchor="end" stroke="#000" stroke-width="0.3">0</text>
<clipPath id="c5"><path clip-rule="evenodd" d="M-500 -500H500V500H-500ZM-16.02 -3.38H-9.02V2.0H-16.02ZM-6.20 -3.38H0.57V2.0H-6.20Z"/></clipPath>
<text transform="translate(74.10 543.00) scale(1.0 1.0)" font-size="29.2" text-anchor="end" stroke="#000" stroke-width="0.3" clip-path="url(#c5)">–1</text>
<text transform="translate(73.60 707.00) scale(1.0 1.0)" font-size="29.2" text-anchor="end" stroke="#000" stroke-width="0.3">–2</text>
<text transform="translate(73.60 871.00) scale(1.0 1.0)" font-size="29.2" text-anchor="end" stroke="#000" stroke-width="0.3">–3</text>
<text transform="translate(201.90 1022.00) scale(1.02 1.045)" font-size="29.2" text-anchor="middle" stroke="#000" stroke-width="0.3">No Ag</text>
<text transform="translate(201.60 1057.00) scale(1.0 1.0)" font-size="29.2" text-anchor="middle" stroke="#000" stroke-width="0.3">change</text>
<text transform="translate(363.90 1022.00) scale(1.02 1.045)" font-size="29.2" text-anchor="middle" stroke="#000" stroke-width="0.3">Ag</text>
<text transform="translate(363.40 1057.00) scale(1.0 1.0)" font-size="29.2" text-anchor="middle" stroke="#000" stroke-width="0.3">change</text>
<text transform="translate(568.50 1022.00) scale(1.02 1.045)" font-size="29.2" text-anchor="middle" stroke="#000" stroke-width="0.3">No Ag</text>
<text transform="translate(568.20 1057.00) scale(1.0 1.0)" font-size="29.2" text-anchor="middle" stroke="#000" stroke-width="0.3">change</text>
<text transform="translate(730.35 1022.00) scale(1.02 1.045)" font-size="29.2" text-anchor="middle" stroke="#000" stroke-width="0.3">Ag</text>
<text transform="translate(729.85 1057.00) scale(1.0 1.0)" font-size="29.2" text-anchor="middle" stroke="#000" stroke-width="0.3">change</text>
<text transform="translate(934.90 1022.00) scale(1.02 1.045)" font-size="29.2" text-anchor="middle" stroke="#000" stroke-width="0.3">No Ag</text>
<text transform="translate(934.60 1057.00) scale(1.0 1.0)" font-size="29.2" text-anchor="middle" stroke="#000" stroke-width="0.3">change</text>
<text transform="translate(1096.90 1022.00) scale(1.02 1.045)" font-size="29.2" text-anchor="middle" stroke="#000" stroke-width="0.3">Ag</text>
<text transform="translate(1096.40 1057.00) scale(1.0 1.0)" font-size="29.2" text-anchor="middle" stroke="#000" stroke-width="0.3">change</text>
<text transform="translate(1301.40 1022.00) scale(1.02 1.045)" font-size="29.2" text-anchor="middle" stroke="#000" stroke-width="0.3">No Ag</text>
<text transform="translate(1301.10 1057.00) scale(1.0 1.0)" font-size="29.2" text-anchor="middle" stroke="#000" stroke-width="0.3">change</text>
<text transform="translate(1463.50 1022.00) scale(1.02 1.045)" font-size="29.2" text-anchor="middle" stroke="#000" stroke-width="0.3">Ag</text>
<text transform="translate(1463.00 1057.00) scale(1.0 1.0)" font-size="29.2" text-anchor="middle" stroke="#000" stroke-width="0.3">change</text>
<text transform="translate(22.00 502.40) rotate(-90) scale(1.0 1.03)" font-size="29.2" text-anchor="middle" stroke="#000" stroke-width="0.3">Lab-confirmed incidence</text>
<text transform="translate(1591.50 422.00) scale(1.0 1.0)" font-size="20.85" text-anchor="start" stroke="#000" stroke-width="0.2">City</text>
<clipPath id="k0"><rect x="1590" y="440.50" width="36" height="22.3"/></clipPath>
<g clip-path="url(#k0)"><ellipse cx="1607.25" cy="451.65" rx="12.05" ry="12.0" fill="#CC79A7" fill-opacity="0.6"/><ellipse cx="1607.25" cy="451.65" rx="11.50" ry="11.45" fill="none" stroke="#CC79A7" stroke-opacity="0.5" stroke-width="1.1"/></g>
<text transform="translate(1623.90 457.00) scale(0.99 1.045)" font-size="16.68" text-anchor="start" stroke="#000" stroke-width="0.15">ADELAIDE</text>
<clipPath id="k1"><rect x="1590" y="473.35" width="36" height="22.3"/></clipPath>
<g clip-path="url(#k1)"><ellipse cx="1607.25" cy="484.5" rx="12.05" ry="12.0" fill="#009E73" fill-opacity="0.6"/><ellipse cx="1607.25" cy="484.5" rx="11.50" ry="11.45" fill="none" stroke="#009E73" stroke-opacity="0.5" stroke-width="1.1"/></g>
<text transform="translate(1623.90 490.00) scale(0.99 1.045)" font-size="16.68" text-anchor="start" stroke="#000" stroke-width="0.15">BRISBANE</text>
<clipPath id="k2"><rect x="1590" y="506.20" width="36" height="22.3"/></clipPath>
<g clip-path="url(#k2)"><ellipse cx="1607.25" cy="517.35" rx="12.05" ry="12.0" fill="#56B4E9" fill-opacity="0.6"/><ellipse cx="1607.25" cy="517.35" rx="11.50" ry="11.45" fill="none" stroke="#56B4E9" stroke-opacity="0.5" stroke-width="1.1"/></g>
<text transform="translate(1623.90 523.00) scale(0.99 1.045)" font-size="16.68" text-anchor="start" stroke="#000" stroke-width="0.15">MELBOURNE</text>
<clipPath id="k3"><rect x="1590" y="539.05" width="36" height="22.3"/></clipPath>
<g clip-path="url(#k3)"><ellipse cx="1607.25" cy="550.2" rx="12.05" ry="12.0" fill="#999999" fill-opacity="0.6"/><ellipse cx="1607.25" cy="550.2" rx="11.50" ry="11.45" fill="none" stroke="#999999" stroke-opacity="0.5" stroke-width="1.1"/></g>
<text transform="translate(1623.90 556.00) scale(0.99 1.045)" font-size="16.68" text-anchor="start" stroke="#000" stroke-width="0.15">PERTH</text>
<clipPath id="k4"><rect x="1590" y="571.90" width="36" height="22.3"/></clipPath>
<g clip-path="url(#k4)"><ellipse cx="1607.25" cy="583.05" rx="12.05" ry="12.0" fill="#E69F00" fill-opacity="0.6"/><ellipse cx="1607.25" cy="583.05" rx="11.50" ry="11.45" fill="none" stroke="#E69F00" stroke-opacity="0.5" stroke-width="1.1"/></g>
<text transform="translate(1623.90 589.00) scale(0.99 1.045)" font-size="16.68" text-anchor="start" stroke="#000" stroke-width="0.15">SYDNEY</text>
</svg></body></html>
